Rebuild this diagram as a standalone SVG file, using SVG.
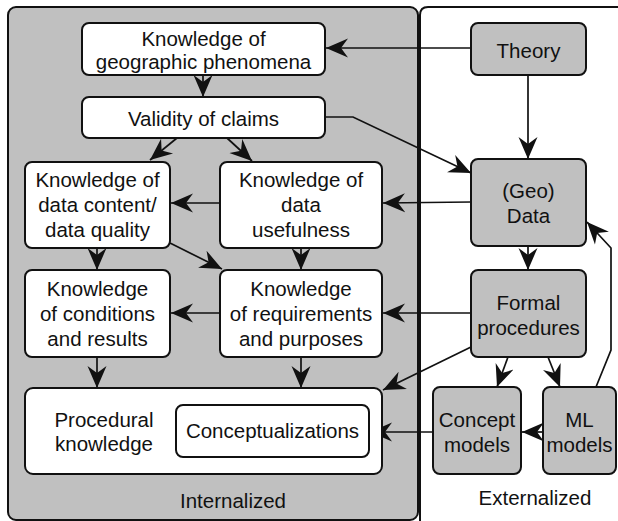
<svg xmlns="http://www.w3.org/2000/svg" width="618" height="521" viewBox="0 0 618 521">
<defs>
<marker id="ah" markerUnits="userSpaceOnUse" markerWidth="24" markerHeight="22" viewBox="0 0 24 22" refX="22" refY="11" orient="auto">
<path d="M0,1.5 L22,11 L0,20.5 L7,11 z" fill="#111"/>
</marker>
<style>
.panel{stroke:#111;stroke-width:2}
.wbox{fill:#fff;stroke:#111;stroke-width:2}
.gbox{fill:#c0c0c0;stroke:#111;stroke-width:2}
.t{font-family:"Liberation Sans",Arial,sans-serif;font-size:20.5px;fill:#111;text-anchor:middle}
.c{fill:none;stroke:#111;stroke-width:1.7;marker-end:url(#ah)}
</style>
</defs>
<rect width="618" height="521" fill="#fff"/>
<g id="internalized">
<rect class="panel" x="8" y="7" width="410" height="513" rx="8" fill="#c0c0c0"/>
<text class="t" x="233" y="508">Internalized</text>
</g>
<g id="externalized">
<path class="panel" d="M420,525 L420,15 Q420,7 428,7 L625,7" fill="none"/>
<text class="t" x="535" y="505">Externalized</text>
</g>
<g id="connectors">
<line class="c" x1="471" y1="48" x2="326" y2="48"/>
<line class="c" x1="203" y1="75" x2="203" y2="97"/>
<line class="c" x1="528" y1="75" x2="528" y2="159"/>
<polyline class="c" points="325,117 353,117 471,173"/>
<line class="c" x1="177" y1="138" x2="150" y2="160"/>
<line class="c" x1="227" y1="138" x2="252" y2="161"/>
<line class="c" x1="220" y1="203" x2="171" y2="203"/>
<line class="c" x1="471" y1="202" x2="383" y2="203"/>
<line class="c" x1="97" y1="248" x2="97" y2="270"/>
<line class="c" x1="301" y1="248" x2="301" y2="270"/>
<line class="c" x1="170" y1="243" x2="222" y2="269"/>
<line class="c" x1="220" y1="313" x2="171" y2="313"/>
<line class="c" x1="471" y1="313" x2="383" y2="313"/>
<line class="c" x1="528" y1="247" x2="528" y2="270"/>
<line class="c" x1="97" y1="357" x2="97" y2="388"/>
<line class="c" x1="301" y1="357" x2="301" y2="388"/>
<line class="c" x1="471" y1="347" x2="383" y2="390"/>
<line class="c" x1="508" y1="357" x2="497" y2="387"/>
<line class="c" x1="548" y1="357" x2="560" y2="387"/>
<line class="c" x1="543" y1="432" x2="522" y2="432"/>
<line class="c" x1="433" y1="432" x2="370" y2="432"/>
<polyline class="c" points="596,387 611,350 611,248 587,222"/>
</g>
<g id="n-geo-phenomena">
<rect class="wbox" x="82" y="23" width="243" height="52" rx="7"/>
<text class="t" x="203.5" y="46">Knowledge of</text>
<text class="t" x="203.5" y="69">geographic phenomena</text>
</g>
<g id="n-validity">
<rect class="wbox" x="82" y="97" width="243" height="41" rx="7"/>
<text class="t" x="203.5" y="126">Validity of claims</text>
</g>
<g id="n-data-content">
<rect class="wbox" x="25" y="162" width="145" height="86" rx="7"/>
<text class="t" x="97.5" y="187">Knowledge of</text>
<text class="t" x="97.5" y="212">data content/</text>
<text class="t" x="97.5" y="237">data quality</text>
</g>
<g id="n-data-usefulness">
<rect class="wbox" x="220" y="162" width="162" height="86" rx="7"/>
<text class="t" x="301" y="187">Knowledge of</text>
<text class="t" x="301" y="212">data</text>
<text class="t" x="301" y="237">usefulness</text>
</g>
<g id="n-conditions">
<rect class="wbox" x="25" y="270" width="145" height="87" rx="7"/>
<text class="t" x="97.5" y="296">Knowledge</text>
<text class="t" x="97.5" y="321">of conditions</text>
<text class="t" x="97.5" y="346">and results</text>
</g>
<g id="n-requirements">
<rect class="wbox" x="220" y="270" width="162" height="87" rx="7"/>
<text class="t" x="301" y="296">Knowledge</text>
<text class="t" x="301" y="321">of requirements</text>
<text class="t" x="301" y="346">and purposes</text>
</g>
<g id="n-procedural">
<rect class="wbox" x="25" y="388" width="357" height="86" rx="8"/>
<text class="t" x="104" y="427">Procedural</text>
<text class="t" x="104" y="451">knowledge</text>
</g>
<g id="n-conceptualizations">
<rect class="wbox" x="176" y="405" width="193" height="52" rx="7"/>
<text class="t" x="272.5" y="438">Conceptualizations</text>
</g>
<g id="n-theory">
<rect class="gbox" x="471" y="23" width="115" height="52" rx="7"/>
<text class="t" x="528.5" y="58">Theory</text>
</g>
<g id="n-geodata">
<rect class="gbox" x="471" y="159" width="115" height="87" rx="7"/>
<text class="t" x="528.5" y="198">(Geo)</text>
<text class="t" x="528.5" y="223">Data</text>
</g>
<g id="n-formal">
<rect class="gbox" x="471" y="270" width="115" height="87" rx="7"/>
<text class="t" x="528.5" y="310">Formal</text>
<text class="t" x="528.5" y="335">procedures</text>
</g>
<g id="n-concept-models">
<rect class="gbox" x="433" y="387" width="88" height="87" rx="7"/>
<text class="t" x="477" y="427">Concept</text>
<text class="t" x="477" y="452">models</text>
</g>
<g id="n-ml-models">
<rect class="gbox" x="543" y="387" width="73" height="87" rx="7"/>
<text class="t" x="579.5" y="427">ML</text>
<text class="t" x="579.5" y="452">models</text>
</g>
</svg>
